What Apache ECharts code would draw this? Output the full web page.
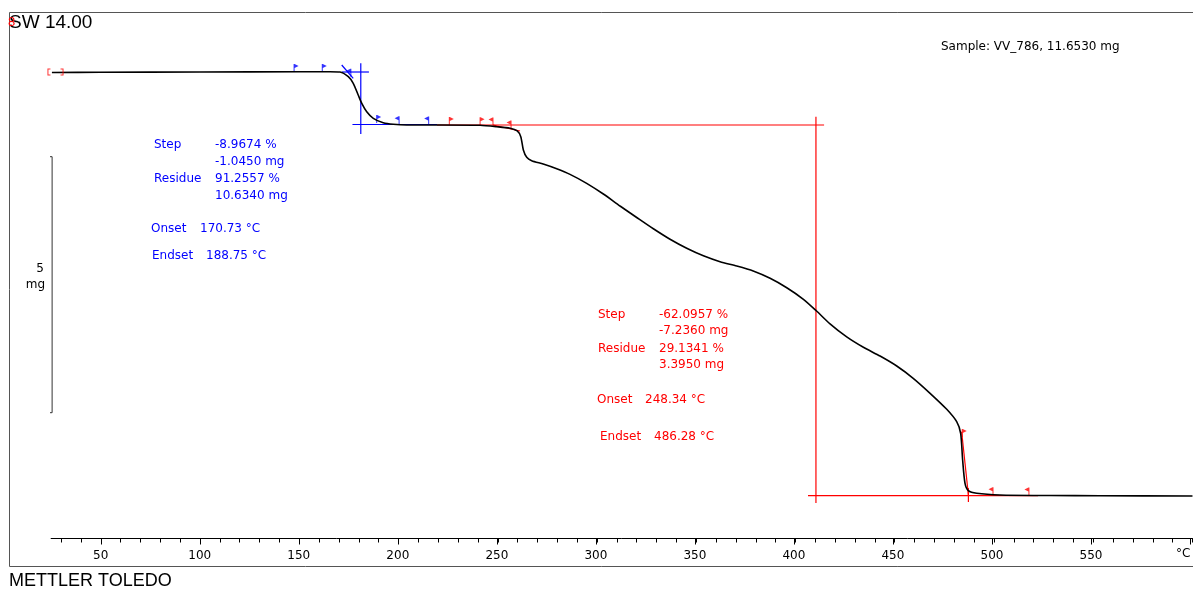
<!DOCTYPE html>
<html>
<head>
<meta charset="utf-8">
<script src="https://cdn.jsdelivr.net/npm/echarts@6.0.0/dist/echarts.min.js"></script>
<style>
  html, body { margin: 0; padding: 0; background: #fff; }
  #chart { width: 1193px; height: 590px; }
</style>
</head>
<body>
<div id="chart"></div>
<script>
// TGA curve, temperature in °C and sample mass in mg
const temps = [25.4, 49.6, 100, 150.4, 165.5, 170.5, 174.7, 177.2, 179.7, 181.5,
  184.0, 187.3, 192.3, 197.4, 204.1, 220.9, 241.1, 249.5, 256.2, 259.8,
  261.6, 262.9, 264.6, 267.1, 272.9, 279.7, 286.4, 294.8, 303.2, 311.6,
  320.0, 328.4, 336.8, 345.2, 353.6, 362.0, 370.4, 378.7, 387.2, 395.6,
  404.0, 410.6, 417.4, 425.8, 434.2, 442.6, 451.0, 459.3, 467.8, 476.2,
  481.2, 483.2, 484.2, 485.4, 487.1, 491.3, 503.0, 528.2, 553.4, 600];
const masses = [11.645, 11.648, 11.654, 11.660, 11.660, 11.654, 11.563, 11.434, 11.205, 11.043,
  10.879, 10.750, 10.664, 10.633, 10.619, 10.619, 10.613, 10.586, 10.555, 10.502,
  10.391, 10.131, 9.988, 9.922, 9.857, 9.765, 9.655, 9.480, 9.271, 9.037,
  8.813, 8.592, 8.387, 8.211, 8.064, 7.949, 7.865, 7.768, 7.625, 7.441,
  7.215, 6.986, 6.735, 6.480, 6.277, 6.107, 5.912, 5.672, 5.379, 5.066,
  4.824, 4.598, 4.076, 3.621, 3.477, 3.426, 3.393, 3.383, 3.379, 3.373];

// evaluation lines (step 1 in blue, step 2 in red)
const blueSegs = [
  [[171.5, 11.654], [185.1, 11.654]],
  [[181.0, 11.824], [181.0, 10.443]],
  [[176.8, 10.629], [219.4, 10.629]],
  [[171.4, 11.791], [177.2, 11.531]]
];
const redSegs = [
  [[219.4, 10.619], [414.4, 10.619]],
  [[410.3, 10.781], [410.3, 3.236]],
  [[406.3, 3.379], [522.2, 3.379]],
  [[483.7, 4.629], [487.1, 3.393]],
  [[487.1, 3.529], [487.1, 3.256]],
  [[247.6, 10.619], [261.2, 10.502]]
];
// limit flags
const blueRightFlags = [[147.4, 11.654], [161.6, 11.654], [189.0, 10.66]];
const blueLeftFlags = [[176.0, 11.56], [200.3, 10.633], [215.2, 10.629]];
const redRightFlags = [[225.6, 10.619], [241.1, 10.616], [484.0, 4.525]];
const redLeftFlags = [[247.6, 10.61], [256.7, 10.55], [499.5, 3.39], [517.6, 3.385]];
const bracketMarks = [[23.9, 11.654], [30.5, 11.654]];
// 5 mg scale bar
const scaleBar = [[22.6, 10], [25.5, 10], [25.5, 5], [22.6, 5]];

const blueTexts = [
  ['Step', 154, 145], ['-8.9674 %', 215, 145], ['-1.0450 mg', 215, 162],
  ['Residue', 154, 179], ['91.2557 %', 215, 179], ['10.6340 mg', 215, 196],
  ['Onset', 151, 229], ['170.73 \u00b0C', 200, 229],
  ['Endset', 152, 256], ['188.75 \u00b0C', 206, 256]
];
const redTexts = [
  ['Step', 598, 315], ['-62.0957 %', 659, 315], ['-7.2360 mg', 659, 331],
  ['Residue', 598, 349], ['29.1341 %', 659, 349], ['3.3950 mg', 659, 365],
  ['Onset', 597, 400], ['248.34 \u00b0C', 645, 400],
  ['Endset', 600, 437], ['486.28 \u00b0C', 654, 437]
];

const chart = echarts.init(document.getElementById('chart'));

// px per °C = 1.985, 0 °C at x = 1.5
const px = t => 1.5 + 1.985 * t;
const gridBase = { top: 12, bottom: 51.5, right: 0.5 };

const FONT = '"DejaVu Sans", Verdana, sans-serif';
const RIGHT_FLAG = 'path://M0,0L1,0L1,8L0,8Z M1,0L5,2L1,4Z';
const LEFT_FLAG = 'path://M4,0L5,0L5,8L4,8Z M4,0L0,2L4,4Z';

function segSeries(segs, color) {
  return segs.map(s => ({
    type: 'line', xAxisIndex: 0, yAxisIndex: 0, data: s,
    symbol: 'none', silent: true, clip: false, z: 3,
    lineStyle: { color: color, width: 1.2 }
  }));
}
function flagSeries(data, color, right) {
  return {
    type: 'scatter', xAxisIndex: 0, yAxisIndex: 0, data: data,
    symbol: right ? RIGHT_FLAG : LEFT_FLAG, symbolSize: [5, 8],
    symbolOffset: [right ? 2 : -2, -4], silent: true, clip: false, z: 4,
    itemStyle: { color: color }
  };
}
function textEls(list, color) {
  return list.map(t => ({
    type: 'text', left: t[1], top: t[2] - 6, silent: true,
    style: { text: t[0], fill: color, font: '12px ' + FONT }
  }));
}

const option = {
  animation: false,
  backgroundColor: '#fff',
  grid: [
    Object.assign({ left: px(25) }, gridBase),
    Object.assign({ left: px(30) }, gridBase),
    Object.assign({ left: px(50) }, gridBase)
  ],
  xAxis: [
    {
      gridIndex: 0, type: 'value', min: 25, max: 600,
      axisLine: { show: true, lineStyle: { color: '#000', width: 1 } },
      axisTick: { show: false }, axisLabel: { show: false }, splitLine: { show: false }
    },
    {
      gridIndex: 1, type: 'value', min: 30, max: 600, interval: 10,
      axisLine: { show: false },
      axisTick: { show: true, length: 4, lineStyle: { color: '#000' } },
      axisLabel: { show: false }, splitLine: { show: false }
    },
    {
      gridIndex: 2, type: 'value', min: 50, max: 600, interval: 50,
      axisLine: { show: false },
      axisTick: { show: true, length: 6, lineStyle: { color: '#000' } },
      axisLabel: {
        show: true, margin: 11, color: '#000', fontSize: 12, fontFamily: 'DejaVu Sans',
        formatter: v => (v === 600 ? '' : String(v))
      },
      splitLine: { show: false }
    }
  ],
  yAxis: [
    { gridIndex: 0, type: 'value', min: 2.543, max: 12.826, show: false, splitLine: { show: false } },
    { gridIndex: 1, type: 'value', min: 0, max: 1, show: false, splitLine: { show: false } },
    { gridIndex: 2, type: 'value', min: 0, max: 1, show: false, splitLine: { show: false } }
  ],
  series: [
    {
      name: 'TGA', type: 'line', xAxisIndex: 0, yAxisIndex: 0,
      data: temps.map((t, i) => [t, masses[i]]),
      symbol: 'none', smooth: 0.25, z: 5,
      lineStyle: { color: '#000', width: 1.6 }
    },
    {
      type: 'line', xAxisIndex: 0, yAxisIndex: 0, data: scaleBar,
      symbol: 'none', silent: true, clip: false,
      lineStyle: { color: '#333', width: 1 }
    },
    ...segSeries(blueSegs, '#0000ff'),
    ...segSeries(redSegs, '#ff0000'),
    flagSeries(blueRightFlags, '#0000ff', true),
    flagSeries(blueLeftFlags, '#0000ff', false),
    flagSeries(redRightFlags, '#ff0000', true),
    flagSeries(redLeftFlags, '#ff0000', false),
    {
      type: 'scatter', xAxisIndex: 0, yAxisIndex: 0, data: bracketMarks,
      symbol: (v, p) => p.dataIndex === 0
        ? 'path://M0,0L3,0L3,1L1,1L1,6L3,6L3,7L0,7Z'
        : 'path://M0,0L3,0L3,7L0,7L0,6L2,6L2,1L0,1Z',
      symbolSize: [3, 7], silent: true, clip: false, z: 6,
      itemStyle: { color: '#ff0000' }
    }
  ],
  graphic: [
    {
      type: 'rect', silent: true, z: -10,
      shape: { x: 9.5, y: 12.5, width: 1200, height: 554 },
      style: { fill: 'none', stroke: '#555', lineWidth: 1 }
    },
    {
      type: 'text', left: 9, top: 13, silent: true,
      style: { text: 'SW 14.00', fill: '#000', font: '19px "Liberation Sans", Arial, sans-serif' }
    },
    {
      type: 'text', left: 8, top: 16, silent: true,
      style: { text: '8', fill: '#ff0000', font: '13px "Liberation Sans", Arial, sans-serif' }
    },
    {
      type: 'text', left: 941, top: 41, silent: true,
      style: { text: 'Sample: VV_786, 11.6530 mg', fill: '#000', font: '12px ' + FONT }
    },
    {
      type: 'text', right: 1193 - 44, top: 263, silent: true,
      style: { text: '5', fill: '#000', font: '12px ' + FONT }
    },
    {
      type: 'text', right: 1193 - 45, top: 279, silent: true,
      style: { text: 'mg', fill: '#000', font: '12px ' + FONT }
    },
    {
      type: 'text', left: 1176, top: 548, silent: true,
      style: { text: '\u00b0C', fill: '#000', font: '12px ' + FONT }
    },
    {
      type: 'text', left: 9, top: 572, silent: true,
      style: { text: 'METTLER TOLEDO', fill: '#000', font: '18px "Liberation Sans", Arial, sans-serif' }
    },
    ...textEls(blueTexts, '#0000ff'),
    ...textEls(redTexts, '#ff0000')
  ]
};

chart.setOption(option);
</script>
</body>
</html>
